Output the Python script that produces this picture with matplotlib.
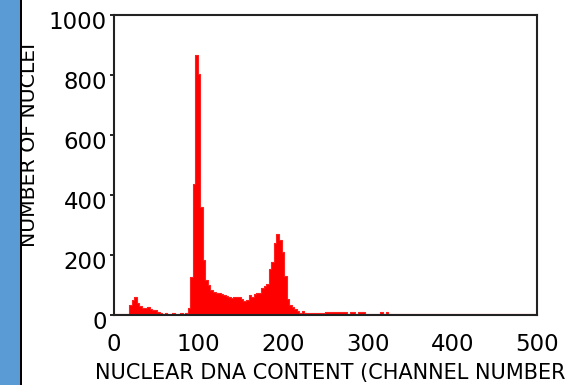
import numpy as np
import matplotlib
matplotlib.use("Agg")
import matplotlib.pyplot as plt
import matplotlib.transforms as mtransforms
from matplotlib.patches import Rectangle

# histogram bins, 3 channels wide
bin_width = 3
channel_edges = np.arange(0, 502, bin_width)
counts = [
    2, 2, 2, 2, 2, 2, 33, 50, 61, 41,
    30, 22, 22, 26, 20, 17, 17, 10, 6, 5,
    6, 5, 5, 6, 5, 5, 6, 5, 8, 25,
    128, 435, 867, 802, 361, 183, 117, 100, 84, 77,
    72, 72, 70, 66, 63, 60, 58, 60, 61, 61,
    55, 48, 50, 67, 61, 69, 72, 72, 89, 97,
    103, 152, 178, 239, 269, 250, 211, 130, 55, 35,
    27, 20, 12, 8, 15, 8, 7, 7, 7, 7,
    7, 7, 7, 10, 10, 10, 10, 10, 10, 10,
    10, 10, 3, 10, 10, 3, 10, 10, 10, 3,
    3, 3, 3, 3, 3, 10, 3, 10, 3, 3,
    3, 3, 3, 3, 3, 3, 3, 3, 3, 3,
    3, 3, 3, 3, 3, 3, 3, 3, 3, 3,
    3, 3, 3, 3, 3, 3, 3, 3, 3, 3,
    3, 3, 3, 3, 3, 3, 3, 3, 3, 3,
    3, 3, 3, 3, 3, 3, 3, 3, 3, 3,
    3, 3, 3, 3, 3, 3, 3,
]
x_ticks = [0, 100, 200, 300, 400, 500]
y_ticks = [0, 200, 400, 600, 800, 1000]

fig = plt.figure(figsize=(5.66, 3.85), dpi=100)
ax = fig.add_axes([114 / 566, 70 / 385, 423 / 566, 300 / 385])

# one filled step outline, so no gaps show between bins
step_y = np.append(counts, counts[-1])
ax.fill_between(channel_edges, step_y, step="post", color="red", linewidth=0)
ax.step(channel_edges, step_y, where="post", color="#ff2020", linewidth=0.8)
ax.axhline(0, color="red", linewidth=2.0)

ax.set_xlim(0, 500)
ax.set_ylim(0, 1000)
ax.set_xticks(x_ticks)
ax.set_yticks(y_ticks)
for s in ax.spines.values():
    s.set_linewidth(1.5)
    s.set_color("#222222")
    s.set_zorder(5)
ax.tick_params(axis="x", length=0, pad=13, labelsize=16.5)
ax.tick_params(axis="y", length=3, width=1.2, pad=2, labelsize=16.5)

# tick labels sit a little below their ticks in the original
offset = mtransforms.ScaledTranslation(0, -5 / 100, fig.dpi_scale_trans)
for lab in ax.get_yticklabels():
    lab.set_transform(lab.get_transform() + offset)

# the original shows the axis title only up to "NUMBER"
fig.text(95 / 566, 1 - 373 / 385, "NUCLEAR DNA CONTENT (CHANNEL NUMBER",
         fontsize=15, ha="left", va="center")
fig.text(30 / 566, 1 - 145 / 385, "NUMBER OF NUCLEI", rotation=90,
         fontsize=14.7, ha="center", va="center")

# blue side strip with black edge
fig.patches.append(Rectangle((0, 0), 20 / 566, 1, transform=fig.transFigure,
                             facecolor="#5b9bd5", edgecolor="none", zorder=10))
fig.patches.append(Rectangle((20 / 566, 0), 2 / 566, 1, transform=fig.transFigure,
                             facecolor="black", edgecolor="none", zorder=10))

fig.savefig("out.png", dpi=100)
